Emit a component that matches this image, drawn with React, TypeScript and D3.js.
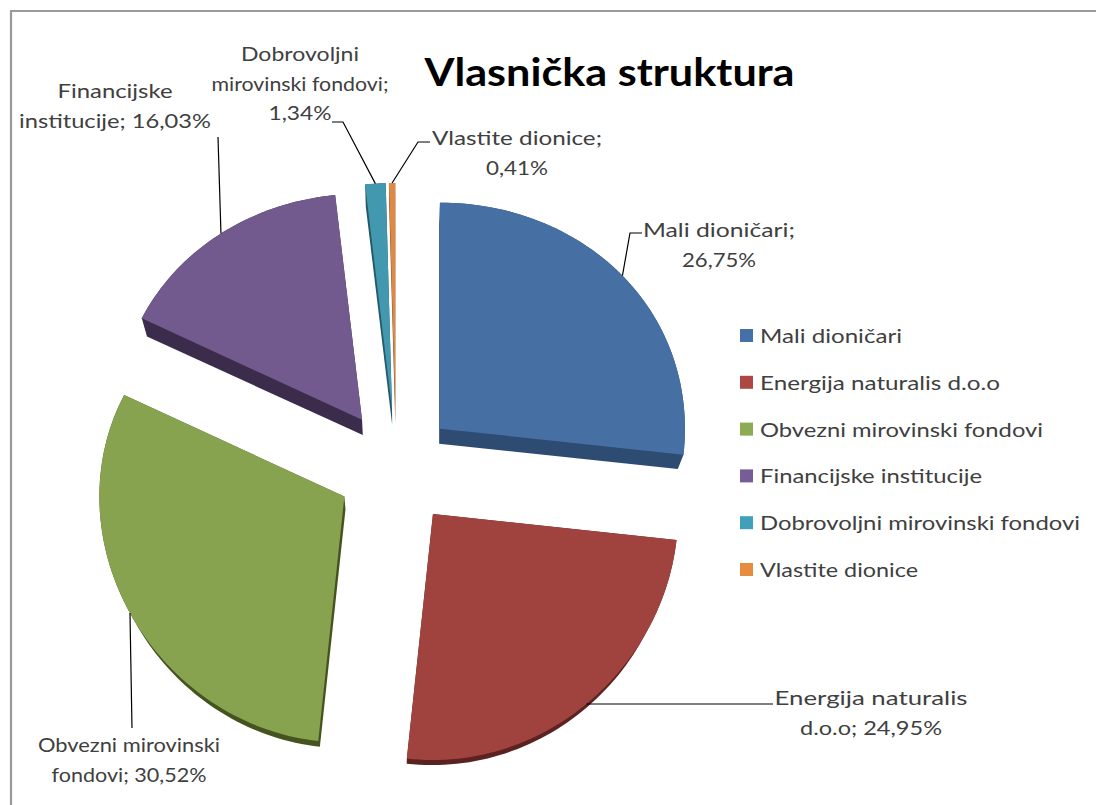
import React, { useEffect } from 'react';
import * as d3 from 'd3';

// ---- data ----
const categories = [
  'Mali dioničari',
  'Energija naturalis d.o.o',
  'Obvezni mirovinski fondovi',
  'Financijske institucije',
  'Dobrovoljni mirovinski fondovi',
  'Vlastite dionice',
];
const values = [26.75, 24.95, 30.52, 16.03, 1.34, 0.41];
const title = 'Vlasnička struktura';
// words per label line
const labelBreaks = [[2, 1], [2, 2], [2, 2], [1, 2], [1, 2, 1], [2, 1]];

// ---- style / layout ----
const topColors = ['#4670a3', '#a0433f', '#88a34f', '#725a8e', '#4298ae', '#de8a45'];
const sideColors = ['#2e4b72', '#5a2220', '#45531f', '#3b2c4c', '#24586a', '#7a4520'];
const legendColors = ['#4571a8', '#ad4744', '#8dab52', '#775d97', '#40a0b7', '#e78b3e'];
const drawOrder = [3, 4, 5, 0, 2, 1];

// label layout: center x, first baseline, widths per line, leader waypoints
const labelLayout = [
  { cx: 719, y: 237, w: [152, 74], leader: [[630, 233], [642, 233]] },
  { cx: 871, y: 705, w: [193, 142], leader: [[773, 704]] },
  { cx: 129, y: 752, w: [182, 155], leader: [[132, 728]] },
  { cx: 115, y: 98, w: [115, 192], leader: [[218, 137]] },
  { cx: 300, y: 61, w: [118, 177, 63], leader: [[343, 122], [332, 122]] },
  { cx: 517, y: 145, w: [170, 62], leader: [[418, 142], [430, 142]] },
];
const legendWidths = [142, 240, 283, 222, 320, 158];

const W = 1096, H = 805;
const CX = 396, CY = 468, R = 245, RYA = 236, RYB = 10, EXPLODE = 59;
const HORIZON_Y = 930, DEPTH_SCALE_Y = 0.97;
const HORIZON_X = 400, DEPTH_SCALE_X = 0.98;
const LINE_H = 29.5;

const fmt = (v: number) => v.toFixed(2).replace('.', ',') + '%';

export default function App() {
  useEffect(() => {
    document.body.style.margin = '0';
    document.body.style.overflow = 'hidden';
  }, []);

  const pie = d3.pie<number>().sort(null).value((d) => d)(values);

  const slices = pie.map((p, i) => {
    const mid = (p.startAngle + p.endAngle) / 2;
    const ax = CX + EXPLODE * Math.sin(mid);
    const ay = CY - EXPLODE * Math.cos(mid);
    const proj = (theta: number, r: number): [number, number] => {
      const u = r * Math.sin(theta);
      const v = -r * Math.cos(theta);
      return [ax + u * R, ay + v * RYA + v * v * RYB];
    };
    const n = Math.max(2, Math.ceil(((p.endAngle - p.startAngle) / (2 * Math.PI)) * 240));
    const arcPts = d3.range(n + 1).map((k) => proj(p.startAngle + ((p.endAngle - p.startAngle) * k) / n, 1));
    const top: [number, number][] = [[ax, ay], ...arcPts];
    const bottom: [number, number][] = top.map(([x, y]) => [
      HORIZON_X + (x - HORIZON_X) * DEPTH_SCALE_X,
      HORIZON_Y + (y - HORIZON_Y) * DEPTH_SCALE_Y,
    ]);
    const hull = d3.polygonHull([...top, ...bottom]) || top;
    const leaderStart = proj(mid, 1);
    return { i, top, hull, leaderStart };
  });

  const line = d3.line();
  const closed = (pts: [number, number][]) => line(pts) + 'Z';

  return (
    <svg width={W} height={H} style={{ position: 'absolute', left: 0, top: 0, background: '#fff' }}
      fontFamily="Lato, 'Open Sans', sans-serif">
      <rect x={0} y={0} width={W} height={H} fill="#fff" />
      <path d={`M11,${H} V11 H${W}`} fill="none" stroke="#9a9a9a" strokeWidth={2.2} />

      <text x={609.5} y={86} textAnchor="middle" fontSize={39} fontWeight="bold" fill="#000"
        textLength={370} lengthAdjust="spacingAndGlyphs">{title}</text>

      {drawOrder.map((idx) => {
        const s = slices[idx];
        return (
          <g key={idx}>
            <path d={closed(s.hull as [number, number][])} fill={sideColors[idx]} />
            <path d={closed(s.top)} fill={topColors[idx]} />
          </g>
        );
      })}

      {slices.map((s) => {
        const lay = labelLayout[s.i];
        const pts: [number, number][] = [s.leaderStart, ...(lay.leader as [number, number][])];
        return <path key={'l' + s.i} d={line(pts) || ''} fill="none" stroke="#000" strokeWidth={1.2} />;
      })}

      {categories.map((c, i) => {
        const words = `${c}; ${fmt(values[i])}`.split(' ');
        const lines: string[] = [];
        let k = 0;
        labelBreaks[i].forEach((cnt) => {
          lines.push(words.slice(k, k + cnt).join(' '));
          k += cnt;
        });
        const lay = labelLayout[i];
        return (
          <g key={'t' + i} fill="#404040" fontSize={20}>
            {lines.map((ln, j) => (
              <text key={j} x={lay.cx} y={lay.y + j * LINE_H} textAnchor="middle"
                textLength={lay.w[j]} lengthAdjust="spacingAndGlyphs">{ln}</text>
            ))}
          </g>
        );
      })}

      {categories.map((c, i) => (
        <g key={'lg' + i}>
          <rect x={740} y={329 + i * 46.8} width={13} height={13} fill={legendColors[i]} />
          <text x={760} y={343 + i * 46.8} fontSize={20} fill="#404040"
            textLength={legendWidths[i]} lengthAdjust="spacingAndGlyphs">{c}</text>
        </g>
      ))}
    </svg>
  );
}
